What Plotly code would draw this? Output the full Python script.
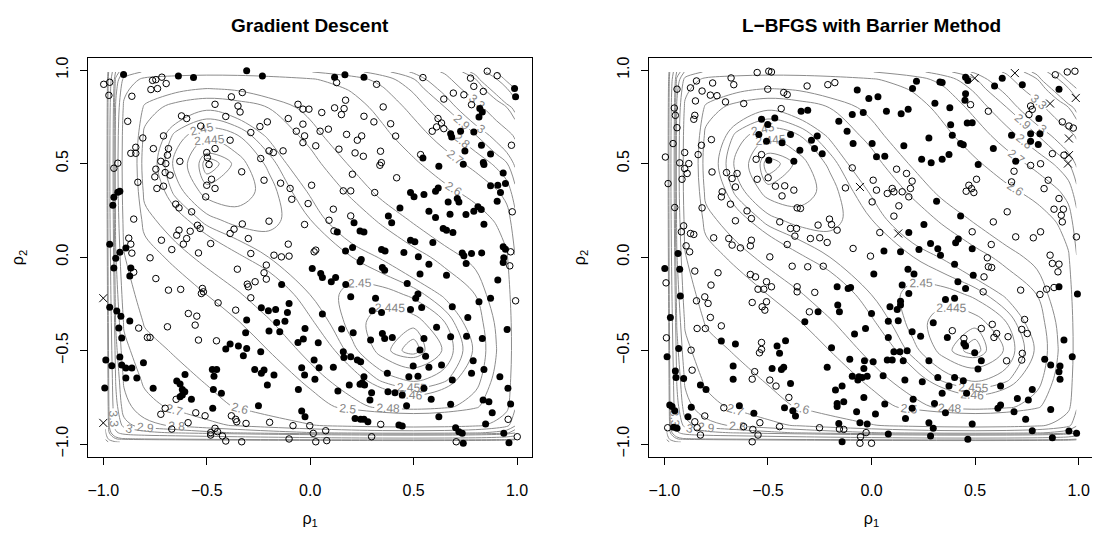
import plotly.graph_objects as go

# ---------------- contour surface (estimated from the labelled contours) ----------------
grid_rho = [-0.99, -0.97, -0.94, -0.9, -0.8, -0.65, -0.5, -0.35, -0.2, 0.0,
            0.2, 0.35, 0.5, 0.65, 0.8, 0.9, 0.95, 0.99]

surface_z = [
    [6.844, 5.686, 5.104, 4.894, 4.784, 4.723, 4.669, 4.623, 4.582, 4.537, 4.504, 4.489, 4.485, 4.493, 4.518, 4.564, 4.608, 4.720],
    [5.686, 4.528, 3.947, 3.737, 3.627, 3.567, 3.514, 3.468, 3.428, 3.383, 3.350, 3.335, 3.331, 3.339, 3.363, 3.408, 3.452, 3.563],
    [5.104, 3.947, 3.365, 3.155, 3.047, 2.988, 2.936, 2.891, 2.851, 2.807, 2.775, 2.760, 2.755, 2.763, 2.786, 2.830, 2.873, 2.985],
    [4.894, 3.737, 3.155, 2.946, 2.839, 2.781, 2.730, 2.687, 2.648, 2.605, 2.573, 2.559, 2.554, 2.560, 2.582, 2.625, 2.668, 2.779],
    [4.784, 3.627, 3.047, 2.839, 2.734, 2.680, 2.633, 2.593, 2.557, 2.517, 2.488, 2.474, 2.468, 2.474, 2.493, 2.534, 2.575, 2.685],
    [4.723, 3.567, 2.988, 2.781, 2.680, 2.631, 2.590, 2.555, 2.524, 2.490, 2.465, 2.4525, 2.448, 2.4526, 2.470, 2.508, 2.548, 2.656],
    [4.669, 3.514, 2.936, 2.730, 2.633, 2.590, 2.554, 2.525, 2.4996, 2.472, 2.4519, 2.4427, 2.4400, 2.4455, 2.4616, 2.499, 2.538, 2.645],
    [4.623, 3.468, 2.891, 2.687, 2.593, 2.555, 2.525, 2.5016, 2.482, 2.4614, 2.4475, 2.4422, 2.4425, 2.4498, 2.4668, 2.5038, 2.542, 2.649],
    [4.582, 3.428, 2.851, 2.648, 2.557, 2.524, 2.4996, 2.482, 2.468, 2.4549, 2.4479, 2.4472, 2.4514, 2.4617, 2.4805, 2.5183, 2.5565, 2.6635],
    [4.537, 3.383, 2.807, 2.605, 2.517, 2.490, 2.472, 2.4614, 2.4549, 2.452, 2.4549, 2.4611, 2.4715, 2.4872, 2.5101, 2.5499, 2.5889, 2.6965],
    [4.504, 3.350, 2.775, 2.573, 2.488, 2.465, 2.4519, 2.4475, 2.4479, 2.4549, 2.4687, 2.4838, 2.5035, 2.529, 2.562, 2.6087, 2.651, 2.7615],
    [4.489, 3.335, 2.760, 2.559, 2.474, 2.4525, 2.4427, 2.4422, 2.4472, 2.4611, 2.4838, 2.5078, 2.539, 2.5784, 2.6288, 2.6891, 2.7392, 2.8562],
    [4.485, 3.331, 2.755, 2.554, 2.468, 2.448, 2.4400, 2.4425, 2.4514, 2.4715, 2.5035, 2.539, 2.5863, 2.6488, 2.7318, 2.8217, 2.8896, 3.0228],
    [4.493, 3.339, 2.763, 2.560, 2.474, 2.4526, 2.4455, 2.4498, 2.4617, 2.4872, 2.529, 2.5784, 2.6488, 2.7486, 2.895, 3.0524, 3.1664, 3.3446],
    [4.518, 3.363, 2.786, 2.582, 2.493, 2.470, 2.4616, 2.4668, 2.4805, 2.5101, 2.562, 2.6288, 2.7318, 2.895, 3.1751, 3.5173, 3.7864, 4.1437],
    [4.564, 3.408, 2.830, 2.625, 2.534, 2.508, 2.499, 2.5038, 2.5183, 2.5499, 2.6087, 2.6891, 2.8217, 3.0524, 3.5173, 4.2173, 4.9009, 5.9124],
    [4.608, 3.452, 2.873, 2.668, 2.575, 2.548, 2.538, 2.542, 2.5565, 2.5889, 2.651, 2.7392, 2.8896, 3.1664, 3.7864, 4.9009, 6.2745, 8.9946],
    [4.720, 3.563, 2.985, 2.779, 2.685, 2.656, 2.645, 2.649, 2.6635, 2.6965, 2.7615, 2.8562, 3.0228, 3.3446, 4.1437, 5.9124, 8.9946, 22.47],
]

contour_levels = [2.441, 2.442, 2.445, 2.45, 2.455, 2.46, 2.48, 2.5, 2.6, 2.7,
                  2.8, 2.9, 3, 3.3, 3.8, 4, 5, 6]

tick_vals = [-1.0, -0.5, 0.0, 0.5, 1.0]
tick_text = ["\u22121.0", "\u22120.5", "0.0", "0.5", "1.0"]

panel_titles = ["Gradient Descent", "L\u2212BFGS with Barrier Method"]

# ---------------- Gradient Descent points (rho1, rho2) ----------------
gd_open = [
    (-0.762, 0.945), (-0.746, 0.949), (-0.717, 0.962), (-0.770, 0.896), (-0.738, 0.901), (-0.696, 0.928),
    (-0.381, 0.857), (-0.328, 0.880), (-0.460, 0.817), (-0.349, 0.808), (-0.339, 0.776), (-0.408, 0.752),
    (-0.059, 0.817), (-0.035, 0.791), (-0.006, 0.791), (-0.622, 0.755), (-0.597, 0.741), (-0.529, 0.701),
    (-0.243, 0.698), (-0.207, 0.723), (-0.106, 0.741), (-0.035, 0.711), (-0.067, 0.673), (-0.287, 0.666),
    (-0.709, 0.648), (-0.809, 0.637), (-0.387, 0.625), (-0.027, 0.648), (-0.035, 0.612), (-0.758, 0.580),
    (-0.685, 0.580), (-0.690, 0.545), (-0.460, 0.580), (-0.500, 0.559), (-0.497, 0.532), (-0.199, 0.568),
    (-0.178, 0.559), (-0.131, 0.568), (-0.722, 0.512), (-0.698, 0.500), (-0.630, 0.512), (-0.489, 0.495),
    (-0.239, 0.527), (-0.746, 0.470), (-0.701, 0.452), (-0.677, 0.438), (-0.331, 0.456), (-0.751, 0.429),
    (-0.477, 0.416), (-0.500, 0.384), (-0.460, 0.367), (-0.223, 0.411), (-0.143, 0.395), (-0.097, 0.367),
    (0.007, 0.384), (-0.741, 0.367), (-0.709, 0.379), (-0.505, 0.322), (-0.089, 0.309), (-0.010, 0.286),
    (-0.650, 0.283), (-0.634, 0.263), (-0.573, 0.242), (-0.328, 0.177), (-0.199, 0.192), (-0.027, 0.174),
    (-0.634, 0.144), (-0.545, 0.170), (-0.532, 0.153), (-0.580, 0.138), (-0.645, 0.117), (-0.368, 0.149),
    (-0.387, 0.126), (-0.299, 0.099), (-0.597, 0.099), (-0.613, 0.069), (-0.719, 0.090), (-0.481, 0.072),
    (-0.669, 0.040), (-0.540, 0.022), (-0.287, 0.019), (-0.106, 0.069), (-0.175, 0.010), (-0.139, 0.001),
    (-0.102, 0.005), (-0.774, -0.004), (0.019, 0.028),
    (-0.998, 0.924), (-0.969, 0.935), (-0.973, 0.865), (-0.862, 0.860), (-0.882, 0.726), (-0.867, 0.555),
    (-0.843, 0.555), (-0.843, 0.587), (-0.949, 0.475), (-0.930, 0.502), (-0.833, 0.400), (-0.853, 0.203),
    (-0.877, 0.101), (-0.867, 0.069), (-0.862, 0.021), (-0.853, -0.081), (-0.829, -0.380),
    (0.128, 0.933), (0.321, 0.924), (0.545, 0.960), (0.856, 0.994), (0.904, 0.970), (0.775, 0.957),
    (0.791, 0.913), (0.837, 0.886), (0.692, 0.877), (0.743, 0.868), (0.646, 0.845), (0.780, 0.815),
    (0.618, 0.741), (0.635, 0.717), (0.611, 0.696), (0.590, 0.673), (0.646, 0.687), (0.534, 0.548),
    (0.353, 0.803), (0.389, 0.713), (0.413, 0.647), (0.056, 0.773), (0.118, 0.798), (0.151, 0.762),
    (0.164, 0.794), (0.171, 0.839), (0.260, 0.753), (0.308, 0.723), (0.048, 0.673), (0.088, 0.684),
    (0.176, 0.656), (0.249, 0.648), (0.228, 0.625), (0.027, 0.595), (0.139, 0.577), (0.217, 0.557),
    (0.257, 0.539), (0.340, 0.566), (0.344, 0.505), (0.337, 0.491), (0.204, 0.443), (0.418, 0.424),
    (0.312, 0.345), (0.160, 0.354), (0.196, 0.354), (0.112, 0.256), (0.196, 0.220), (0.091, 0.197),
    (0.115, 0.140), (0.027, 0.037), (0.977, 0.242), (0.973, 0.598), (0.969, 0.028),
    (-0.352, -0.065), (-0.212, -0.043), (-0.223, -0.084), (-0.212, -0.118), (-0.304, -0.145), (-0.299, -0.159),
    (-0.266, -0.132), (-0.746, -0.115), (-0.685, -0.177), (-0.626, -0.173), (-0.521, -0.168), (-0.526, -0.195),
    (-0.516, -0.186), (-0.445, -0.245), (-0.360, -0.284), (-0.287, -0.218), (-0.589, -0.302), (-0.548, -0.316),
    (-0.556, -0.364), (-0.690, -0.373), (-0.787, -0.430), (-0.774, -0.430), (-0.540, -0.444), (-0.453, -0.448),
    (-0.701, -0.809), (-0.722, -0.841), (-0.648, -0.761), (-0.590, -0.886), (-0.553, -0.833), (-0.508, -0.849),
    (-0.381, -0.849), (-0.360, -0.868), (-0.355, -0.881), (-0.310, -0.890), (-0.196, -0.884), (-0.083, -0.902),
    (-0.002, -0.902), (-0.669, -0.920), (-0.481, -0.939), (-0.460, -0.916), (-0.481, -0.952), (-0.448, -0.934),
    (-0.424, -0.957), (-0.408, -0.984), (-0.331, -0.988), (-0.102, -0.973),
    (0.965, -0.047), (0.993, -0.234), (0.957, -0.868), (1.001, -0.961), (0.341, -0.895), (0.297, -0.961),
    (0.075, -0.929), (0.027, -0.988), (0.080, -0.982), (0.015, -0.943), (0.706, -0.988),
]

gd_filled = [
    (-0.637, 0.969), (-0.564, 0.960), (-0.307, 0.996), (-0.231, 0.969),
    (-0.902, 0.976), (-0.949, 0.320), (-0.930, 0.347), (-0.920, 0.352), (-0.954, 0.277), (-0.969, 0.069),
    (-0.891, 0.048), (-0.920, 0.026), (-0.940, -0.006), (-0.949, -0.059), (-0.867, -0.059), (-0.872, -0.102),
    (-0.969, -0.268), (-0.935, -0.289), (-0.915, -0.316), (-0.872, -0.342), (-0.925, -0.380), (-0.911, -0.433),
    (-0.920, -0.535), (-0.911, -0.577), (-0.988, -0.550), (-0.959, -0.582), (-0.891, -0.593), (-0.862, -0.593),
    (-0.891, -0.647), (-0.838, -0.647), (-0.993, -0.700),
    (-0.138, -0.147), (-0.307, -0.337), (-0.236, -0.271), (-0.202, -0.287), (-0.167, -0.280), (-0.102, -0.248),
    (-0.110, -0.296), (-0.122, -0.343), (-0.162, -0.350), (-0.199, -0.396), (-0.147, -0.400), (-0.025, -0.382),
    (-0.033, -0.439), (-0.059, -0.457), (-0.312, -0.405), (-0.347, -0.476), (-0.307, -0.489), (-0.387, -0.465),
    (-0.408, -0.492), (-0.323, -0.528), (-0.239, -0.506), (-0.806, -0.565), (-0.473, -0.601), (-0.452, -0.601),
    (-0.465, -0.637), (-0.268, -0.601), (-0.223, -0.604), (-0.236, -0.622), (-0.175, -0.631), (-0.041, -0.592),
    (-0.027, -0.631), (-0.207, -0.685), (-0.057, -0.708), (-0.759, -0.702), (-0.645, -0.663), (-0.629, -0.679),
    (-0.618, -0.708), (-0.606, -0.720), (-0.629, -0.747), (-0.618, -0.738), (-0.574, -0.761), (-0.468, -0.708),
    (-0.429, -0.729), (-0.471, -0.809), (-0.250, -0.795), (-0.041, -0.824), (-0.025, -0.854), (-0.605, -0.628),
    (0.118, 0.962), (0.168, 0.975), (0.260, 0.962), (0.988, 0.901), (0.993, 0.857), (0.820, 0.794),
    (0.832, 0.776), (0.816, 0.749), (0.679, 0.660), (0.684, 0.642), (0.727, 0.673), (0.791, 0.669),
    (0.828, 0.598), (0.748, 0.567), (0.872, 0.551), (0.837, 0.506), (0.840, 0.495), (0.740, 0.497),
    (0.622, 0.486), (0.545, 0.530), (0.933, 0.450), (0.907, 0.384), (0.944, 0.393), (0.872, 0.381),
    (0.920, 0.345), (0.904, 0.299), (0.485, 0.345), (0.502, 0.322), (0.550, 0.334), (0.606, 0.352),
    (0.619, 0.370), (0.667, 0.295), (0.711, 0.313), (0.719, 0.295), (0.434, 0.263), (0.378, 0.220),
    (0.394, 0.183), (0.212, 0.183), (0.241, 0.140), (0.260, 0.134), (0.131, 0.134), (0.574, 0.245),
    (0.606, 0.211), (0.676, 0.229), (0.753, 0.227), (0.791, 0.245), (0.811, 0.269), (0.827, 0.254),
    (0.840, 0.176), (0.643, 0.153), (0.659, 0.144), (0.690, 0.131), (0.485, 0.090), (0.506, 0.082),
    (0.593, 0.078), (0.205, 0.051), (0.171, 0.033), (0.345, 0.040), (0.362, 0.032), (0.453, 0.024),
    (0.523, 0.001), (0.735, 0.022), (0.743, 0.007), (0.780, 0.019), (0.829, 0.022), (0.933, 0.055),
    (0.944, 0.042), (0.936, -0.004), (0.247, -0.013),
    (0.010, -0.061), (0.051, -0.088), (0.059, -0.109), (0.102, -0.132), (0.123, -0.109), (0.172, -0.147),
    (0.241, -0.025), (0.349, -0.056), (0.360, -0.070), (0.469, -0.141), (0.521, -0.198), (0.510, -0.221),
    (0.531, -0.091), (0.574, -0.038), (0.659, -0.097), (0.754, -0.034), (0.933, -0.029), (0.907, -0.123),
    (0.816, -0.239), (0.872, -0.221), (0.687, -0.266), (0.762, -0.323), (0.756, -0.423), (0.832, -0.435),
    (0.952, -0.387), (0.788, -0.555), (0.840, -0.601), (0.917, -0.640), (0.956, -0.702), (0.969, -0.786),
    (0.836, -0.765), (0.864, -0.774), (0.880, -0.833), (0.848, -0.893), (0.936, -0.943), (0.961, -0.993),
    (0.059, -0.305), (0.196, -0.213), (0.300, -0.287), (0.345, -0.296), (0.316, -0.221), (0.485, -0.280),
    (0.539, -0.270), (0.152, -0.385), (0.208, -0.405), (0.349, -0.409), (0.360, -0.435), (0.397, -0.430),
    (0.292, -0.444), (0.039, -0.458), (0.160, -0.506), (0.163, -0.537), (0.196, -0.533), (0.228, -0.551),
    (0.244, -0.560), (0.550, -0.435), (0.611, -0.376), (0.679, -0.426), (0.531, -0.497), (0.558, -0.530),
    (0.498, -0.583), (0.574, -0.590), (0.635, -0.578), (0.780, -0.622), (0.687, -0.658), (0.373, -0.622),
    (0.477, -0.640), (0.521, -0.637), (0.019, -0.551), (0.043, -0.592), (0.112, -0.590), (0.023, -0.653),
    (0.134, -0.717), (0.189, -0.685), (0.260, -0.640), (0.252, -0.672), (0.241, -0.681), (0.263, -0.685),
    (0.297, -0.726), (0.289, -0.765), (0.376, -0.720), (0.410, -0.726), (0.445, -0.738), (0.550, -0.702),
    (0.585, -0.761), (0.466, -0.795), (0.679, -0.788), (0.217, -0.863), (0.244, -0.868), (0.260, -0.868),
    (0.279, -0.881), (0.429, -0.898), (0.445, -0.904), (0.622, -0.854), (0.703, -0.913), (0.719, -0.934),
    (0.735, -0.943), (0.740, -0.996),
]

gd_cross = [(-1.0, -0.220), (-1.0, -0.887)]

# ---------------- L-BFGS with barrier points (rho1, rho2) ----------------
lb_open = [
    (-0.552, 0.987), (-0.496, 0.994), (-0.483, 0.990), (-0.845, 0.942), (-0.767, 0.931), (-0.678, 0.958),
    (-0.665, 0.922), (-0.939, 0.898), (-0.874, 0.905), (-0.818, 0.888), (-0.778, 0.866), (-0.746, 0.863),
    (-0.705, 0.830), (-0.850, 0.835), (-0.501, 0.898), (-0.424, 0.880), (-0.407, 0.869), (-0.311, 0.915),
    (-0.211, 0.922), (-0.177, 0.933), (-0.617, 0.821), (-0.436, 0.794), (-0.952, 0.797), (-0.947, 0.758),
    (-0.853, 0.758), (-0.858, 0.737), (-0.939, 0.692), (-0.958, 0.607), (-0.773, 0.628), (-0.821, 0.598),
    (-0.837, 0.548), (-0.902, 0.559), (-0.995, 0.535), (-0.926, 0.504), (-0.882, 0.500), (-0.902, 0.473),
    (-0.915, 0.416), (-0.890, 0.447), (-0.982, 0.393), (-0.770, 0.455), (-0.700, 0.452), (-0.673, 0.420),
    (-0.649, 0.447), (-0.657, 0.375), (-0.721, 0.349), (-0.725, 0.322), (-0.557, 0.523), (-0.531, 0.548),
    (-0.552, 0.416), (-0.499, 0.424), (-0.464, 0.379), (-0.419, 0.381), (-0.432, 0.327), (-0.375, 0.358),
    (-0.359, 0.263), (-0.343, 0.260), (-0.093, 0.477), (-0.126, 0.370), (-0.950, 0.265), (-0.818, 0.263),
    (-0.681, 0.283), (-0.657, 0.194), (-0.601, 0.247), (-0.580, 0.206), (-0.443, 0.188), (-0.391, 0.153),
    (-0.362, 0.153), (-0.258, 0.171), (-0.203, 0.203), (-0.193, 0.174), (-0.166, 0.144), (-0.907, 0.167),
    (-0.918, 0.135), (-0.874, 0.126), (-0.858, 0.121), (-0.762, 0.103), (-0.689, 0.099), (-0.673, 0.064),
    (-0.580, 0.090), (-0.633, 0.049), (-0.585, 0.060), (-0.370, 0.112), (-0.295, 0.099), (-0.250, 0.103),
    (-0.214, 0.078), (-0.407, 0.067), (-0.895, 0.060), (-0.878, 0.028), (-0.491, 0.001),
    (0.887, 0.975), (0.945, 0.990), (0.982, 0.994), (0.768, 0.808), (0.776, 0.790), (0.760, 0.762),
    (0.564, 0.780), (0.478, 0.815), (0.921, 0.723), (0.953, 0.701), (0.974, 0.690), (0.873, 0.553),
    (0.816, 0.499), (0.768, 0.490), (0.929, 0.545), (0.688, 0.459), (0.676, 0.402), (0.507, 0.416),
    (0.470, 0.384), (0.483, 0.366), (0.494, 0.345), (0.457, 0.352), (0.121, 0.470), (0.169, 0.447),
    (0.196, 0.406), (0.008, 0.411), (0.024, 0.358), (0.076, 0.340), (0.100, 0.367), (0.108, 0.349),
    (0.148, 0.349), (0.180, 0.322), (0.188, 0.367), (0.003, 0.295), (0.132, 0.274), (0.108, 0.219),
    (0.655, 0.242), (0.588, 0.188), (0.853, 0.411), (0.833, 0.366), (0.905, 0.313), (0.881, 0.256),
    (0.926, 0.256), (0.916, 0.224), (0.921, 0.188), (0.989, 0.108), (0.781, 0.103), (0.816, 0.135),
    (0.696, 0.108), (0.578, 0.067), (0.486, 0.135), (0.040, 0.131), (-0.089, 0.046), (-0.005, 0.005),
    (0.559, -0.004), (0.862, 0.010),
    (-0.853, -0.075), (-0.741, -0.084), (-0.992, -0.138), (-0.845, -0.234), (-0.805, -0.213), (-0.789, -0.248),
    (-0.775, -0.150), (-0.778, -0.323), (-0.842, -0.382), (-0.802, -0.382), (-0.725, -0.368), (-0.990, -0.432),
    (-0.871, -0.498), (-0.866, -0.605), (-0.805, -0.850), (-0.853, -0.881), (-0.842, -0.913), (-0.826, -0.952),
    (-0.984, -0.913), (-0.713, -0.806), (-0.585, -0.093), (-0.560, -0.106), (-0.548, -0.172), (-0.520, -0.172),
    (-0.507, -0.132), (-0.483, -0.159), (-0.576, -0.243), (-0.528, -0.266), (-0.515, -0.284), (-0.507, -0.239),
    (-0.531, -0.457), (-0.531, -0.494), (-0.541, -0.512), (-0.564, -0.613), (-0.576, -0.653), (-0.491, -0.658),
    (-0.461, -0.690), (-0.399, -0.751), (-0.383, -0.049), (-0.308, -0.052), (-0.233, -0.049), (-0.359, -0.159),
    (-0.359, -0.186), (-0.274, -0.189), (-0.300, -0.293), (-0.617, -0.907), (-0.573, -0.922), (-0.539, -0.886),
    (-0.548, -0.952), (-0.576, -0.988), (-0.444, -0.907), (-0.251, -0.913), (-0.155, -0.920), (-0.134, -0.922),
    (0.564, -0.052), (0.580, -0.056), (0.543, -0.106), (0.539, -0.186), (0.720, -0.177), (0.813, -0.200),
    (0.845, -0.172), (0.881, -0.163), (0.873, -0.034), (0.905, -0.038), (0.900, -0.079), (0.390, -0.394),
    (0.446, -0.435), (0.530, -0.382), (0.583, -0.360), (0.591, -0.430), (0.604, -0.409), (0.659, -0.426),
    (0.725, -0.387), (0.739, -0.334), (0.752, -0.409), (0.728, -0.515), (0.725, -0.551), (0.652, -0.555),
    (-0.026, -0.939), (-0.053, -0.961), (-0.056, -0.996), (0.000, -0.996),
]

lb_filled = [
    (-0.934, 0.019), (-0.340, 0.780), (-0.308, 0.785), (-0.531, 0.737), (-0.501, 0.709), (-0.467, 0.744),
    (-0.544, 0.655), (-0.507, 0.619), (-0.432, 0.612), (-0.391, 0.655), (-0.346, 0.571), (-0.290, 0.625),
    (-0.262, 0.648), (-0.275, 0.580), (-0.238, 0.553), (-0.375, 0.513), (-0.496, 0.518), (-0.158, 0.726),
    (-0.118, 0.673),
    (0.217, 0.940), (0.330, 0.936), (0.341, 0.933), (0.454, 0.962), (0.465, 0.945), (0.631, 0.957),
    (0.594, 0.915), (0.728, 0.922), (-0.069, 0.894), (-0.013, 0.848), (0.031, 0.857), (0.198, 0.901),
    (0.454, 0.874), (0.451, 0.839), (0.378, 0.798), (0.306, 0.823), (0.072, 0.780), (0.143, 0.767),
    (0.177, 0.791), (-0.093, 0.762), (-0.040, 0.773), (0.486, 0.719), (0.462, 0.717), (0.382, 0.708),
    (0.390, 0.652), (0.277, 0.637), (0.430, 0.607), (0.443, 0.601), (0.588, 0.580), (0.676, 0.652),
    (0.768, 0.660), (0.813, 0.660), (0.768, 0.620), (0.805, 0.602), (-0.089, 0.607), (0.003, 0.607),
    (0.156, 0.595), (0.024, 0.536), (0.064, 0.539), (0.242, 0.523), (0.288, 0.505), (0.341, 0.523),
    (0.374, 0.548), (0.515, 0.495), (0.696, 0.513), (0.905, 0.897), (0.808, 0.741), (0.314, 0.299),
    (0.253, 0.174), (0.430, 0.220), (0.180, 0.131), (0.419, 0.096), (0.406, 0.076), (0.285, 0.072),
    (0.320, 0.045), (0.229, 0.040), (0.060, 0.033), (0.140, 0.028), (0.486, 0.045), (0.333, 0.010),
    (-0.998, -0.061), (-0.926, -0.065), (-0.923, -0.209), (-0.971, -0.323), (-0.931, -0.489), (-0.987, -0.533),
    (-0.947, -0.610), (-0.944, -0.644), (-0.907, -0.649), (-0.974, -0.792), (-0.963, -0.800), (-0.950, -0.822),
    (-0.870, -0.804), (-0.886, -0.854), (-0.955, -0.911), (-0.939, -0.916), (-0.725, -0.449), (-0.657, -0.465),
    (-0.826, -0.685), (-0.799, -0.708), (-0.668, -0.583), (-0.668, -0.653), (-0.638, -0.795), (-0.568, -0.836),
    (-0.480, -0.596), (-0.435, -0.601), (-0.424, -0.590), (-0.391, -0.676), (-0.456, -0.476), (-0.444, -0.515),
    (-0.415, -0.448), (-0.420, -0.806), (-0.380, -0.822), (-0.367, -0.850), (-0.322, -0.346), (-0.258, -0.293),
    (-0.166, -0.159), (-0.113, -0.168), (-0.163, -0.257), (-0.155, -0.293), (-0.193, -0.485), (-0.105, -0.547),
    (-0.214, -0.590), (-0.174, -0.711), (-0.142, -0.690), (-0.166, -0.783), (-0.166, -0.800), (-0.134, -0.774),
    (-0.158, -0.890), (-0.142, -0.988),
    (0.176, -0.065), (0.011, -0.091), (0.205, -0.091), (0.401, -0.038), (0.491, -0.097), (0.417, -0.132),
    (0.454, -0.168), (-0.101, -0.163), (0.148, -0.150), (0.180, -0.195), (0.140, -0.236), (0.140, -0.257),
    (0.124, -0.280), (0.089, -0.266), (0.000, -0.302), (0.081, -0.343), (0.129, -0.341), (-0.082, -0.412),
    (-0.029, -0.382), (0.196, -0.400), (0.237, -0.423), (0.081, -0.430), (0.298, -0.351), (0.366, -0.430),
    (0.357, -0.227), (0.401, -0.221), (0.446, -0.462), (0.454, -0.476), (0.498, -0.512), (0.530, -0.555),
    (0.514, -0.599), (0.108, -0.507), (0.137, -0.507), (0.172, -0.501), (0.076, -0.551), (0.100, -0.551),
    (0.153, -0.555), (0.277, -0.555), (-0.034, -0.555), (0.008, -0.560), (-0.037, -0.596), (-0.093, -0.637),
    (-0.061, -0.640), (-0.045, -0.644), (-0.021, -0.637), (-0.066, -0.658), (0.056, -0.635), (0.161, -0.658),
    (0.245, -0.667), (0.320, -0.644), (0.374, -0.690), (0.401, -0.644), (0.443, -0.661), (0.341, -0.729),
    (0.459, -0.729), (0.623, -0.690), (0.776, -0.708), (0.704, -0.756), (0.757, -0.765), (0.623, -0.792),
    (0.610, -0.809), (0.688, -0.827), (0.744, -0.868), (0.865, -0.815), (0.953, -0.931), (0.990, -0.943),
    (0.776, -0.929), (0.873, -0.966), (-0.037, -0.751), (0.064, -0.786), (0.201, -0.761), (0.196, -0.809),
    (-0.072, -0.827), (0.019, -0.840), (0.164, -0.863), (0.304, -0.783), (0.357, -0.833), (0.277, -0.886),
    (0.298, -0.916), (0.285, -0.957), (0.486, -0.893), (0.465, -0.975), (-0.056, -0.886), (-0.021, -0.893),
    (0.081, -0.947), (0.905, -0.159), (0.994, -0.198), (0.836, -0.546), (0.929, -0.444), (0.910, -0.583),
    (0.905, -0.613), (0.910, -0.654), (0.969, -0.533), (0.865, -0.578),
]

lb_cross = [(0.692, 0.984), (0.498, 0.957), (0.862, 0.821), (0.986, 0.851), (0.953, 0.634),
            (0.953, 0.545), (0.948, 0.500), (-0.056, 0.375), (0.129, 0.126)]

# ---------------- build figure ----------------
FONT = "Liberation Sans, Arial, Helvetica, sans-serif"
LINE_GRAY = "#8c8c8c"

fig = go.Figure()

panels = [("x", "y", gd_open, gd_filled, gd_cross),
          ("x2", "y2", lb_open, lb_filled, lb_cross)]

for xa, ya, opens, filled, crosses in panels:
    for lev in contour_levels:
        fig.add_trace(go.Contour(
            x=grid_rho, y=grid_rho, z=surface_z,
            xaxis=xa, yaxis=ya,
            autocontour=False,
            contours=dict(start=lev, end=lev, size=1, coloring="lines",
                          showlabels=True,
                          labelfont=dict(family=FONT, size=12, color="#858585"),
                          labelformat=".4~g"),
            colorscale=[[0, LINE_GRAY], [1, LINE_GRAY]],
            line=dict(width=1, smoothing=1),
            showscale=False, hoverinfo="skip", showlegend=False,
        ))
    fig.add_trace(go.Scatter(
        x=[p[0] for p in opens], y=[p[1] for p in opens], xaxis=xa, yaxis=ya,
        mode="markers", showlegend=False,
        marker=dict(symbol="circle-open", size=6.5, color="black", line=dict(width=1, color="black")),
    ))
    fig.add_trace(go.Scatter(
        x=[p[0] for p in filled], y=[p[1] for p in filled], xaxis=xa, yaxis=ya,
        mode="markers", showlegend=False,
        marker=dict(symbol="circle", size=7, color="black", line=dict(width=0)),
    ))
    fig.add_trace(go.Scatter(
        x=[p[0] for p in crosses], y=[p[1] for p in crosses], xaxis=xa, yaxis=ya,
        mode="markers", showlegend=False,
        marker=dict(symbol="x-thin-open", size=8, color="black", line=dict(width=1, color="black")),
    ))

common_axis = dict(
    tickvals=tick_vals, ticktext=tick_text, ticks="outside", ticklen=7, tickwidth=1,
    tickcolor="black", showline=True, mirror=True, linecolor="black", linewidth=1,
    showgrid=False, zeroline=False, tickfont=dict(family=FONT, size=16, color="black"),
)

x_range = [-1.074, 1.074]
y_range = [-1.0695, 1.0647]

# the page body adds an 8px offset, so the figure is 8px smaller and margins are shifted
fig.update_layout(
    width=1092, height=526,
    margin=dict(l=80, r=6, t=50, b=77),
    paper_bgcolor="white", plot_bgcolor="white",
    font=dict(family=FONT, color="black"),
    showlegend=False,
    xaxis=dict(domain=[0.0, 0.4417], range=x_range, anchor="y", ticklabelstandoff=12,
               title=dict(text="\u03c1<sub>1</sub>", font=dict(size=16), standoff=14), **common_axis),
    yaxis=dict(domain=[0, 1], range=y_range, anchor="x", tickangle=-90, ticklabelstandoff=6,
               title=dict(text="\u03c1<sub>2</sub>", font=dict(size=16), standoff=25), **common_axis),
    xaxis2=dict(domain=[0.5577, 1.0], range=x_range, anchor="y2", ticklabelstandoff=12,
                title=dict(text="\u03c1<sub>1</sub>", font=dict(size=16), standoff=14), **common_axis),
    yaxis2=dict(domain=[0, 1], range=y_range, anchor="x2", tickangle=-90, ticklabelstandoff=6,
                title=dict(text="\u03c1<sub>2</sub>", font=dict(size=16), standoff=25), **common_axis),
    annotations=[
        dict(text="<b>%s</b>" % panel_titles[0], xref="paper", yref="paper", x=0.2209, y=1.0827,
             xanchor="center", yanchor="middle", showarrow=False, font=dict(family=FONT, size=19)),
        dict(text="<b>%s</b>" % panel_titles[1], xref="paper", yref="paper", x=0.7789, y=1.0827,
             xanchor="center", yanchor="middle", showarrow=False, font=dict(family=FONT, size=19)),
    ],
)

fig.write_html("out.html")
